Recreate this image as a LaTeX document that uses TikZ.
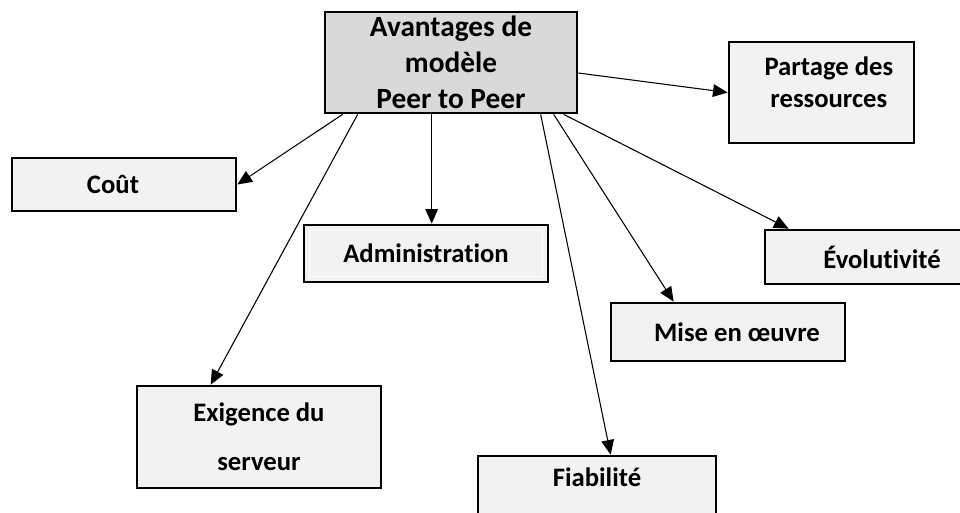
\documentclass[tikz,border=0pt]{standalone}
\usepackage{fontspec}
\setmainfont[RawFeature=-liga]{Carlito}
\usetikzlibrary{arrows.meta,calc}

\definecolor{hubfill}{HTML}{D9D9D9}
\definecolor{leaffill}{HTML}{F2F2F2}

\tikzset{
  leafbox/.style={draw=black, line width=2pt, fill=leaffill, inner sep=0pt,
    font=\bfseries\fontsize{20pt}{24pt}\selectfont, align=center},
  hubbox/.style={leafbox, fill=hubfill,
    font=\bfseries\fontsize{22pt}{27pt}\selectfont},
  link/.style={draw=black, line width=0.8pt,
    -{Triangle[length=11pt,width=9.5pt]}}
}

\begin{document}
\begin{tikzpicture}[x=0.75pt,y=-0.75pt]
  \clip (0,0) rectangle (960,512);
  \fill[white] (0,0) rectangle (960,512);

  % central box
  \node[hubbox, minimum width=189pt, minimum height=75.75pt] (c) at (451,62.5)
    {Avantages de\\modèle\\Peer to Peer};

  % surrounding boxes
  \node[leafbox, minimum width=138.75pt, minimum height=75.75pt] (part) at (821.5,92.5)
    {\hspace*{11pt}\smash{\begin{tabular}{@{}c@{}}Partage des\\ressources\end{tabular}}};
  \node[leafbox, minimum width=168pt, minimum height=39.75pt] (cout) at (124,184.5)
    {Coût\hspace*{16.5pt}};
  \node[leafbox, minimum width=183pt, minimum height=42.75pt] (admin) at (426,253.5)
    {Administration};
  \draw[white, line width=1pt]
    ($(admin.south west)+(7,-7)$) rectangle ($(admin.north east)+(-7,7)$);
  \node[leafbox, minimum width=150pt, minimum height=40.5pt] (evol) at (865,257)
    {\hspace*{25.5pt}Évolutivité};
  \node[leafbox, minimum width=175.5pt, minimum height=43.5pt] (mise) at (728,332)
    {\hspace*{13.5pt}Mise en œuvre};
  \node[leafbox, minimum width=183pt, minimum height=76.5pt,
        font=\bfseries\fontsize{20pt}{36.75pt}\selectfont] (exig) at (259,437)
    {Exigence du\\serveur};
  \node[leafbox, minimum width=178.5pt, minimum height=55.5pt,
        text height=14pt, text depth=23.5pt] (fiab) at (597,493)
    {Fiabilité};

  % connectors
  \draw[link] ($(c.east)+(0,10.5)$) -- (part.west);
  \draw[link] ($(c.south west)+(19,0)$) -- (cout.east);
  \draw[link] ($(c.south west)+(34,0)$) -- ($(exig.north west)+(75,0)$);
  \coordinate (adminstart) at ($(c.south west)+(108,0)$);
  \draw[link] (adminstart) -- (adminstart |- admin.north);
  \draw[link] ($(c.south west)+(217,0)$) -- ($(fiab.north west)+(134,0)$);
  \draw[link] ($(c.south west)+(230,0)$) -- ($(mise.north west)+(64,0)$);
  \draw[link] ($(c.south west)+(240,0)$) -- ($(evol.north west)+(25,0)$);
\end{tikzpicture}
\end{document}
